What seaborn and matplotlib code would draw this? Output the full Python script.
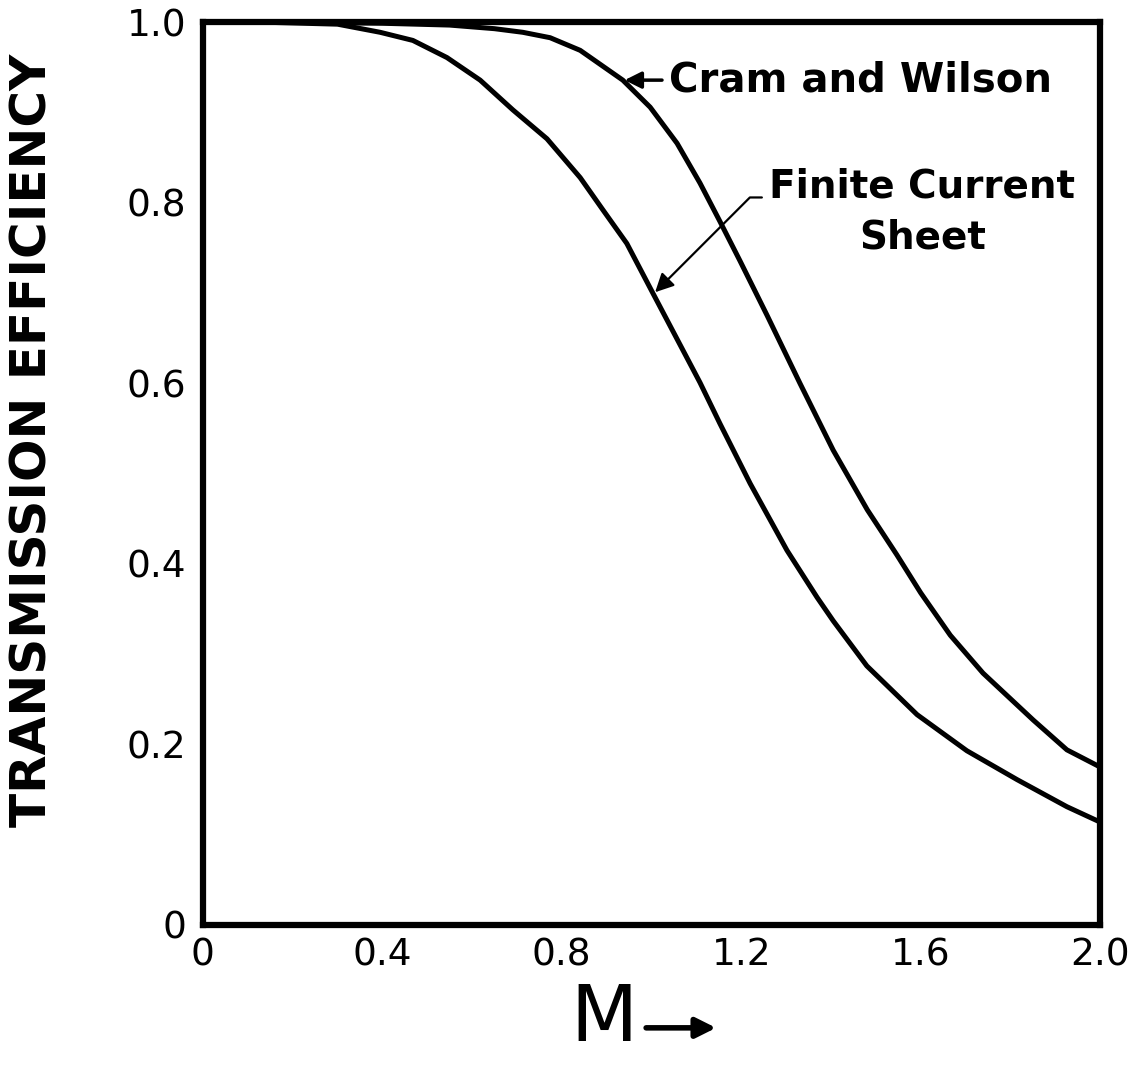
import matplotlib
matplotlib.use("Agg")
import matplotlib.pyplot as plt
import seaborn as sns

# =========================
# DATA
# =========================
m_cram = [0.0, 0.20, 0.40, 0.55, 0.65, 0.713, 0.774, 0.841, 0.936, 0.997, 1.057,
          1.108, 1.153, 1.197, 1.258, 1.331, 1.405, 1.481, 1.547, 1.600, 1.666,
          1.739, 1.851, 1.926, 2.0]
t_cram = [1.0, 1.0, 0.999, 0.997, 0.993, 0.989, 0.983, 0.969, 0.936, 0.906, 0.866,
          0.822, 0.779, 0.736, 0.675, 0.600, 0.526, 0.460, 0.410, 0.368, 0.321,
          0.279, 0.227, 0.194, 0.175]

m_sheet = [0.0, 0.15, 0.30, 0.395, 0.468, 0.544, 0.618, 0.691, 0.767, 0.841, 0.892,
           0.945, 1.003, 1.108, 1.153, 1.220, 1.302, 1.369, 1.405, 1.480, 1.592,
           1.703, 1.815, 1.926, 2.0]
t_sheet = [1.0, 1.0, 0.998, 0.989, 0.980, 0.961, 0.936, 0.903, 0.871, 0.828, 0.792,
           0.755, 0.700, 0.601, 0.555, 0.489, 0.415, 0.363, 0.337, 0.287, 0.233,
           0.193, 0.161, 0.131, 0.114]

x_ticks = [0, 0.4, 0.8, 1.2, 1.6, 2.0]
x_tick_labels = ["0", "0.4", "0.8", "1.2", "1.6", "2.0"]
y_ticks = [0, 0.2, 0.4, 0.6, 0.8, 1.0]
y_tick_labels = ["0", "0.2", "0.4", "0.6", "0.8", "1.0"]

# =========================
# SETTINGS
# =========================
sns.set_theme(style="white")
plt.rcParams["font.family"] = ["DejaVu Sans"]
plt.rcParams["text.color"] = "black"
plt.rcParams["axes.labelcolor"] = "black"
plt.rcParams["xtick.color"] = "black"
plt.rcParams["ytick.color"] = "black"

fig = plt.figure(figsize=(11.4, 10.65), dpi=100)
ax = fig.add_axes([0.178, 0.1315, 0.787, 0.8475])

sns.lineplot(x=m_cram, y=t_cram, ax=ax, color="black", linewidth=3.6)
sns.lineplot(x=m_sheet, y=t_sheet, ax=ax, color="black", linewidth=3.6)

ax.set_xlim(0, 2.0)
ax.set_ylim(0, 1.0)

for side in ["left", "right", "top", "bottom"]:
    ax.spines[side].set_visible(True)
    ax.spines[side].set_color("black")
    ax.spines[side].set_linewidth(4.5)

ax.set_xticks(x_ticks)
ax.set_xticklabels(x_tick_labels)
ax.set_yticks(y_ticks)
ax.set_yticklabels(y_tick_labels)
ax.tick_params(axis="both", direction="in", colors="black", labelsize=27,
               width=2.2)
ax.tick_params(axis="y", length=19, pad=12)
ax.tick_params(axis="x", length=21, pad=9)

# axis labels
ax.set_ylabel("TRANSMISSION EFFICIENCY", fontsize=36, fontweight="bold",
              color="black")
ax.yaxis.set_label_coords(-0.19, 0.537)
ax.yaxis.label.set_va("center")

ax.set_xlabel("M", fontsize=56, color="black")
ax.xaxis.set_label_coords(0.447, -0.104)
ax.xaxis.label.set_va("center")
ax.annotate("", xy=(0.572, -0.114), xytext=(0.494, -0.114),
            xycoords="axes fraction", textcoords="axes fraction",
            annotation_clip=False,
            arrowprops=dict(arrowstyle="-|>", color="black", lw=4,
                            mutation_scale=30, shrinkA=0, shrinkB=0))

# curve labels
ax.annotate("Cram and Wilson", xy=(0.94, 0.936), xytext=(1.04, 0.936),
            ha="left", va="center", fontsize=29, fontweight="bold",
            arrowprops=dict(arrowstyle="-|>", color="black", lw=2.5,
                            mutation_scale=25, shrinkA=3, shrinkB=0))

ax.text(1.604, 0.79, "Finite Current\nSheet", ha="center", va="center",
        fontsize=28, fontweight="bold", linespacing=1.45)
ax.annotate("", xy=(1.008, 0.701), xytext=(1.246, 0.806),
            arrowprops=dict(arrowstyle="-|>", color="black", lw=1.6,
                            mutation_scale=28, shrinkA=0, shrinkB=0,
                            connectionstyle="angle,angleA=180,angleB=45,rad=0"))

fig.savefig("out.png", dpi=100, facecolor="white")
